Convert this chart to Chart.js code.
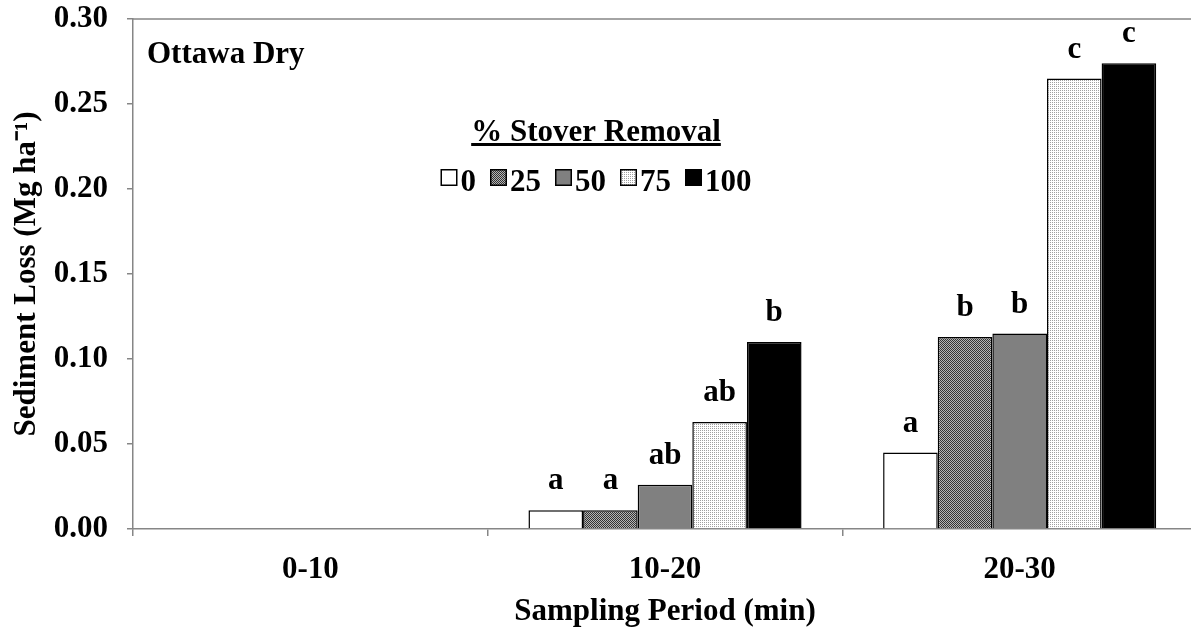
<!DOCTYPE html>
<html>
<head>
<meta charset="utf-8">
<script src="https://cdn.jsdelivr.net/npm/chart.js@4.4.0/dist/chart.umd.min.js"></script>
<style>
    body { margin: 0; overflow: hidden; background: #fff; }
    canvas { display: block; }
</style>
</head>
<body>
<canvas id="sedimentChart" width="1200" height="632"></canvas>
<script>
// sampling periods (x categories) and stover removal levels (series)
const periods = ['0-10', '10-20', '20-30']
const removal = ['0', '25', '50', '75', '100']

// sediment loss, Mg/ha, one array per removal level
const loss0 = [0, 0.011, 0.045]
const loss25 = [0, 0.011, 0.113]
const loss50 = [0, 0.026, 0.115]
const loss75 = [0, 0.063, 0.265]
const loss100 = [0, 0.110, 0.274]

// mean separation letters above each bar
const letters0 = ['', 'a', 'a']
const letters25 = ['', 'a', 'b']
const letters50 = ['', 'ab', 'b']
const letters75 = ['', 'ab', 'c']
const letters100 = ['', 'b', 'c']

const yTicks = [0, 0.05, 0.10, 0.15, 0.20, 0.25, 0.30]

const FONT = "'Liberation Serif', 'Times New Roman', serif"
const AXIS = '#868686'

function makePattern(size, bg, dots) {
    let c = document.createElement('canvas')
    c.width = size
    c.height = size
    let g = c.getContext('2d')
    g.fillStyle = bg
    g.fillRect(0, 0, size, size)
    dots.forEach(function (d) {
        g.fillStyle = d[2]
        g.fillRect(d[0], d[1], 1, 1)
    })
    return g.createPattern(c, 'repeat')
}

const fills = [
    '#ffffff',
    makePattern(2, '#b4b4b4', [[0, 0, '#333333'], [1, 1, '#333333']]),
    '#808080',
    makePattern(2, '#ffffff', [[0, 0, '#a0a0a0']]),
    '#000000'
]
const series = [loss0, loss25, loss50, loss75, loss100]
const letters = [letters0, letters25, letters50, letters75, letters100]

// letters over bars
const letterPlugin = {
    id: 'letters',
    afterDatasetsDraw(chart) {
        const ctx = chart.ctx
        ctx.save()
        ctx.font = 'bold 31px ' + FONT
        ctx.fillStyle = '#000'
        ctx.textAlign = 'center'
        ctx.textBaseline = 'alphabetic'
        chart.data.datasets.forEach(function (ds, i) {
            chart.getDatasetMeta(i).data.forEach(function (bar, j) {
                let t = letters[i][j]
                if (t) ctx.fillText(t, bar.x, bar.y - 21)
            })
        })
        ctx.restore()
    }
}

// top frame line, site label and the legend inside the plot
const framePlugin = {
    id: 'frame',
    afterDraw(chart, args, opts) {
        const ctx = chart.ctx
        const a = chart.chartArea
        ctx.save()
        ctx.strokeStyle = AXIS
        ctx.lineWidth = 1.5
        ctx.beginPath()
        ctx.moveTo(a.left, a.top)
        ctx.lineTo(a.right, a.top)
        ctx.stroke()

        ctx.font = 'bold 31px ' + FONT
        ctx.fillStyle = '#000'
        ctx.textBaseline = 'alphabetic'
        ctx.textAlign = 'left'
        ctx.fillText(opts.site, a.left + 14, opts.siteY)

        // legend title, underlined
        ctx.textAlign = 'center'
        ctx.fillText(opts.title, opts.x, opts.titleY)
        let tw = ctx.measureText(opts.title).width
        ctx.fillRect(opts.x - tw / 2, opts.titleY + 2, tw, 3)

        // legend items
        const box = 17, gap = 3, sep = 14
        let items = chart.data.datasets.map(function (ds) {
            return { label: ds.label, fill: ds.backgroundColor, w: ctx.measureText(ds.label).width }
        })
        let total = 0
        items.forEach(function (it, i) {
            total += box + gap + it.w + (i < items.length - 1 ? sep : 0)
        })
        let x = opts.x - total / 2
        ctx.textAlign = 'left'
        items.forEach(function (it) {
            let top = opts.itemY - 22
            ctx.fillStyle = it.fill
            ctx.fillRect(x, top, box, box)
            ctx.strokeStyle = '#000'
            ctx.lineWidth = 1.5
            ctx.strokeRect(x + 0.75, top + 0.75, box - 1.5, box - 1.5)
            ctx.fillStyle = '#000'
            ctx.fillText(it.label, x + box + gap, opts.itemY)
            x += box + gap + it.w + sep
        })
        ctx.restore()
    }
}

Chart.defaults.font.family = FONT
Chart.defaults.font.size = 31
Chart.defaults.font.weight = 'bold'
Chart.defaults.color = '#000'

var sedimentChart = new Chart(document.getElementById('sedimentChart'), {
    type: 'bar',
    data: {
        labels: periods,
        datasets: removal.map(function (r, i) {
            return {
                label: r,
                data: series[i],
                backgroundColor: fills[i],
                borderColor: '#000',
                borderWidth: 1.5,
                categoryPercentage: 0.77,
                barPercentage: 1
            }
        })
    },
    options: {
        responsive: false,
        animation: false,
        layout: { padding: { left: 4, right: 3, top: 19, bottom: 0 } },
        plugins: {
            legend: { display: false },
            tooltip: { enabled: false },
            frame: {
                site: 'Ottawa Dry',
                siteY: 63,
                title: '% Stover Removal',
                x: 596,
                titleY: 141,
                itemY: 191
            }
        },
        scales: {
            x: {
                grid: { display: true, drawOnChartArea: false, offset: true, tickLength: 7, color: AXIS, lineWidth: 1.5 },
                border: { color: AXIS, width: 1.5 },
                ticks: { padding: 15 },
                title: { display: true, text: 'Sampling Period (min)', padding: { top: 4, bottom: 1.4 } },
                afterFit: function (axis) {
                    axis.height = 103
                }
            },
            y: {
                min: 0,
                max: 0.3,
                afterBuildTicks: function (axis) {
                    axis.ticks = yTicks.map(function (v) { return { value: v } })
                },
                grid: { display: true, drawOnChartArea: false, tickLength: 6, color: AXIS, lineWidth: 1.5 },
                border: { color: AXIS, width: 1.5 },
                ticks: {
                    padding: 19,
                    callback: function (v) { return Number(v).toFixed(2) }
                },
                title: { display: true, text: 'Sediment Loss (Mg ha\u207B\u00B9)', padding: { top: 4, bottom: 8 } },
                afterFit: function (axis) {
                    axis.width = 129
                    axis.paddingTop = 0
                    axis.paddingBottom = 0
                }
            }
        }
    },
    plugins: [letterPlugin, framePlugin]
})
</script>
</body>
</html>
